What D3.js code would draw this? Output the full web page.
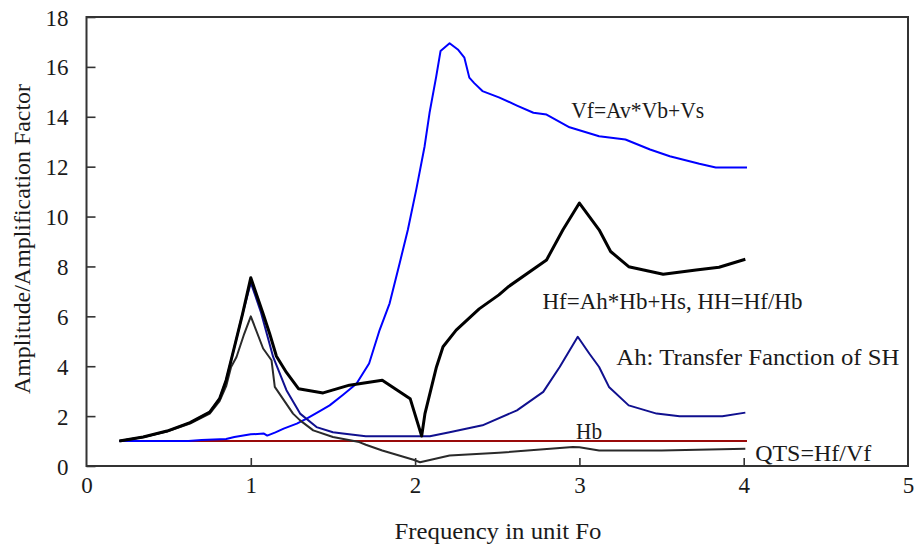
<!DOCTYPE html>
<html>
<head>
<meta charset="utf-8">
<script src="https://cdn.jsdelivr.net/npm/d3@7"></script>
<style>
  html, body { margin: 0; padding: 0; background: #fff; }
  svg { display: block; }
  text { font-family: "Liberation Serif", "DejaVu Serif", serif; fill: #1a1a1a; }
</style>
</head>
<body>
<svg id="chart" width="914" height="549"></svg>
<script>
// [frequency in Fo, amplitude]
const vf = [[0.2,1.0],[0.62,1.0],[0.7,1.04],[0.85,1.08],[0.9,1.16],[1.0,1.27],[1.08,1.3],[1.1,1.22],[1.15,1.35],[1.2,1.5],
  [1.28,1.7],[1.34,1.9],[1.42,2.2],[1.48,2.43],[1.56,2.85],[1.643,3.3],[1.72,4.11],[1.784,5.45],[1.845,6.52],[1.906,8.13],
  [1.956,9.47],[2.007,11.08],[2.058,12.82],[2.088,14.16],[2.129,15.63],[2.155,16.64],[2.21,16.95],[2.26,16.7],[2.30,16.37],
  [2.33,15.57],[2.36,15.35],[2.41,15.03],[2.51,14.78],[2.62,14.45],[2.72,14.16],[2.80,14.09],[2.94,13.58],[3.12,13.22],
  [3.28,13.09],[3.43,12.69],[3.55,12.42],[3.73,12.12],[3.83,11.97],[4.02,11.97]];

const ah = [[0.2,1.0],[0.35,1.16],[0.49,1.40],[0.63,1.74],[0.75,2.16],[0.81,2.70],[0.85,3.44],[0.89,4.5],[0.95,6.1],
  [1.0,7.35],[1.06,6.2],[1.136,4.37],[1.217,3.04],[1.30,2.1],[1.40,1.56],[1.5,1.35],[1.56,1.30],[1.70,1.19],[2.09,1.19],
  [2.21,1.35],[2.41,1.63],[2.62,2.23],[2.78,2.97],[2.88,3.97],[2.99,5.18],[3.06,4.51],[3.12,3.97],[3.18,3.17],[3.30,2.43],
  [3.47,2.10],[3.61,1.99],[3.87,1.99],[4.01,2.14]];

const hf = [[0.2,1.0],[0.345,1.16],[0.49,1.40],[0.63,1.74],[0.75,2.16],[0.81,2.70],[0.85,3.44],[0.89,4.5],[0.95,6.1],
  [1.0,7.55],[1.075,6.1],[1.115,5.3],[1.156,4.4],[1.217,3.75],[1.29,3.1],[1.44,2.93],[1.60,3.24],[1.80,3.44],[1.97,2.70],
  [2.04,1.2],[2.06,2.1],[2.13,3.97],[2.17,4.78],[2.25,5.45],[2.39,6.3],[2.51,6.86],[2.57,7.2],[2.80,8.26],[2.90,9.47],
  [3.0,10.54],[3.12,9.47],[3.19,8.6],[3.30,7.99],[3.51,7.69],[3.71,7.86],[3.85,7.97],[4.01,8.29]];

const qts = [[0.2,1.0],[0.345,1.16],[0.49,1.38],[0.63,1.7],[0.75,2.1],[0.81,2.6],[0.85,3.2],[0.88,3.97],[0.913,4.37],
  [0.96,5.3],[1.0,6.0],[1.075,4.71],[1.126,4.24],[1.146,3.17],[1.257,2.1],[1.30,1.83],[1.38,1.43],[1.50,1.16],[1.66,0.96],
  [1.70,0.85],[1.80,0.62],[1.99,0.25],[2.03,0.15],[2.21,0.42],[2.51,0.53],[2.96,0.76],[3.0,0.75],[3.12,0.62],[3.5,0.62],
  [4.01,0.69]];

const hb = [[0.2,1.0],[4.02,1.0]];

const xTicks = [0, 1, 2, 3, 4, 5];
const yTicks = [0, 2, 4, 6, 8, 10, 12, 14, 16, 18];

const labels = [
  {text: "Vf=Av*Vb+Vs", f: 2.95, v: 14.3, len: 133},
  {text: "Hf=Ah*Hb+Hs, HH=Hf/Hb", f: 2.775, v: 6.65, len: 260},
  {text: "Ah: Transfer Fanction of SH", f: 3.225, v: 4.4, len: 283},
  {text: "Hb", f: 2.98, v: 1.4, len: 26},
  {text: "QTS=Hf/Vf", f: 4.07, v: 0.55, len: 116}
];

const svg = d3.select("#chart");
const box = {left: 86.5, right: 908, top: 17, bottom: 466};

const x = d3.scaleLinear().domain([0, 5]).range([box.left, box.right]);
const y = d3.scaleLinear().domain([0, 18]).range([box.bottom, box.top]);

const line = d3.line().x(d => x(d[0])).y(d => y(d[1]));

// series, bottom to top
const series = [
  {data: hb, color: "#9a0a0a", width: 2},
  {data: vf, color: "#0000ff", width: 2},
  {data: ah, color: "#10108f", width: 2},
  {data: qts, color: "#2a2a2a", width: 2},
  {data: hf, color: "#000", width: 3}
];
svg.selectAll("path.series").data(series).enter().append("path")
  .attr("class", "series")
  .attr("d", d => line(d.data))
  .attr("fill", "none")
  .attr("stroke", d => d.color)
  .attr("stroke-width", d => d.width)
  .attr("stroke-linejoin", "round");

// axes, ticks point inward
const yAxis = svg.append("g").attr("transform", "translate(" + box.left + ",0)")
  .call(d3.axisLeft(y).tickValues(yTicks).tickSize(-9).tickPadding(18).tickFormat(d3.format("d")));
const xAxis = svg.append("g").attr("transform", "translate(0," + box.bottom + ")")
  .call(d3.axisBottom(x).tickValues(xTicks).tickSize(-8).tickPadding(27).tickFormat(d3.format("d")));

[yAxis, xAxis].forEach(g => {
  g.select(".domain").remove();
  g.selectAll("line").attr("stroke", "#333").attr("stroke-width", 1.6);
  g.selectAll("text").attr("font-size", 23).attr("font-family", null).attr("fill", "#1a1a1a");
});
xAxis.selectAll(".tick").filter(d => d === 0 || d === 5).select("line").remove();
xAxis.selectAll("text").attr("dy", "0");
yAxis.selectAll("text").attr("dy", "0.35em");

svg.append("rect")
  .attr("x", box.left).attr("y", box.top)
  .attr("width", box.right - box.left).attr("height", box.bottom - box.top)
  .attr("fill", "none").attr("stroke", "#333").attr("stroke-width", 2);

// annotations
svg.selectAll("text.note").data(labels).enter().append("text")
  .attr("class", "note")
  .attr("x", d => x(d.f)).attr("y", d => y(d.v))
  .attr("dy", "0.35em")
  .attr("font-size", 24)
  .attr("textLength", d => d.len)
  .attr("lengthAdjust", "spacingAndGlyphs")
  .text(d => d.text);

svg.append("text")
  .attr("x", 498).attr("y", 539)
  .attr("text-anchor", "middle").attr("font-size", 23)
  .attr("textLength", 207).attr("lengthAdjust", "spacingAndGlyphs")
  .text("Frequency in unit Fo");

svg.append("text")
  .attr("transform", "translate(30," + 239 + ") rotate(-90)")
  .attr("text-anchor", "middle").attr("font-size", 23)
  .attr("textLength", 310).attr("lengthAdjust", "spacingAndGlyphs")
  .text("Amplitude/Amplification Factor");
</script>
</body>
</html>
